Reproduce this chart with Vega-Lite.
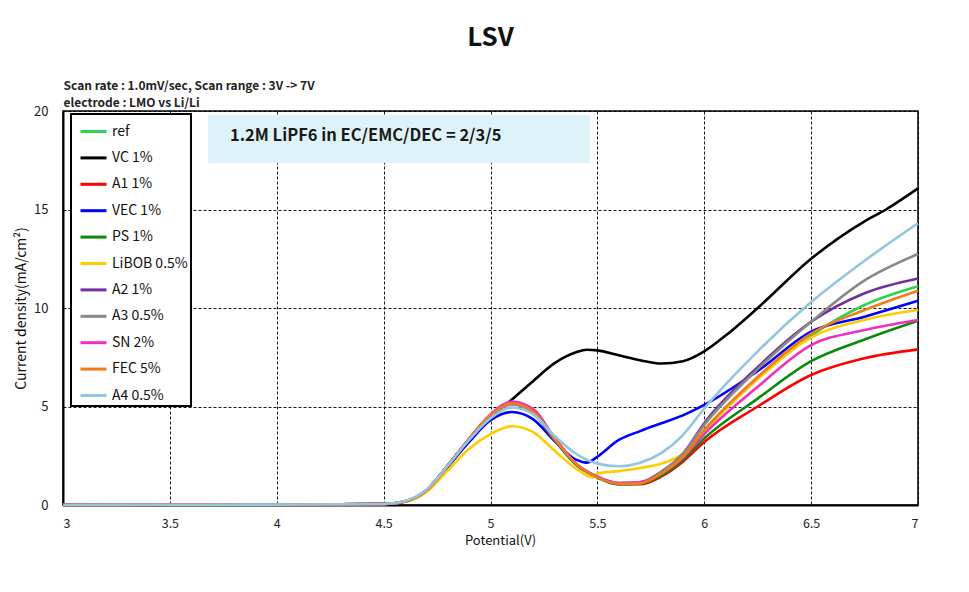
{
  "$schema": "https://vega.github.io/schema/vega-lite/v6.json",
  "width": 855,
  "height": 394,
  "autosize": {"type": "none"},
  "padding": {"left": 63, "top": 111, "right": 51, "bottom": 87},
  "background": "white",
  "title": {"text": "LSV", "anchor": "middle", "frame": "group", "fontSize": 26, "font": "Noto Sans CJK KR", "fontWeight": "bold", "offset": 28, "color": "#111111"},
  "config": {
    "font": "Noto Sans CJK KR",
    "view": {"stroke": "black", "strokeWidth": 1.5},
    "axis": {"gridColor": "black", "gridDash": [3, 2], "gridWidth": 1, "gridOpacity": 0.9, "domainColor": "black", "domainWidth": 2, "ticks": false, "tickSize": 0, "labelFont": "Noto Sans CJK KR", "labelFontSize": 13, "labelColor": "#222222", "titleFont": "Noto Sans CJK KR", "titleFontSize": 14, "titleFontWeight": "normal", "titleColor": "#111111"},
    "axisY": {"labelPadding": 15, "titlePadding": 5},
    "legend": {"strokeWidth": 2}
  },
  "resolve": {"axis": {"x": "independent"}},
  "layer": [
    {
      "data": {"values": [{"x": 3.678, "x2": 5.466, "y": 17.36, "y2": 19.8}]},
      "mark": {"type": "rect", "fill": "#def3f9"},
      "encoding": {
        "x": {"field": "x", "type": "quantitative", "scale": {"domain": [3, 7]},
          "axis": {"orient": "top", "labels": false, "ticks": false, "domain": false, "grid": false,
            "title": ["Scan rate : 1.0mV/sec,  Scan range : 3V -> 7V", "electrode : LMO vs Li/Li"],
            "titleAnchor": "start", "titleAlign": "left", "titlePadding": 2, "titleFontSize": 12, "titleLineHeight": 17, "titleFontWeight": "bold", "titleColor": "#222222"}},
        "x2": {"field": "x2"},
        "y": {"field": "y", "type": "quantitative", "scale": {"domain": [0, 20]}, "axis": {"title": "Current density(mA/cm²)", "values": [0, 5, 10, 15, 20], "format": "d", "grid": true}},
        "y2": {"field": "y2"}
      }
    },
    {
      "data": {"values": [{"x": 3.781, "y": 18.73, "label": "1.2M LiPF6 in EC/EMC/DEC = 2/3/5"}]},
      "mark": {"type": "text", "align": "left", "baseline": "middle", "fontSize": 16.5, "fontWeight": "bold", "color": "#1a1a1a"},
      "encoding": {
        "x": {"field": "x", "type": "quantitative", "scale": {"domain": [3, 7]}, "axis": null},
        "y": {"field": "y", "type": "quantitative", "scale": {"domain": [0, 20]}, "axis": {"title": "Current density(mA/cm²)", "values": [0, 5, 10, 15, 20], "format": "d", "grid": true}},
        "text": {"field": "label"}
      }
    },
    {
      "data": {"values": [
        {"s": "ref", "V": 3.0, "I": 0}, {"s": "ref", "V": 3.5, "I": 0.01}, {"s": "ref", "V": 4.0, "I": 0.02}, {"s": "ref", "V": 4.5, "I": 0.05}, {"s": "ref", "V": 4.6, "I": 0.18}, {"s": "ref", "V": 4.7, "I": 0.75}, {"s": "ref", "V": 4.8, "I": 2.0}, {"s": "ref", "V": 4.9, "I": 3.35}, {"s": "ref", "V": 5.0, "I": 4.55}, {"s": "ref", "V": 5.1, "I": 5.2}, {"s": "ref", "V": 5.2, "I": 4.75}, {"s": "ref", "V": 5.3, "I": 3.3}, {"s": "ref", "V": 5.4, "I": 2.05}, {"s": "ref", "V": 5.5, "I": 1.4}, {"s": "ref", "V": 5.6, "I": 1.1}, {"s": "ref", "V": 5.7, "I": 1.12}, {"s": "ref", "V": 5.8, "I": 1.6}, {"s": "ref", "V": 5.9, "I": 2.45}, {"s": "ref", "V": 6.0, "I": 3.8}, {"s": "ref", "V": 6.25, "I": 6.4}, {"s": "ref", "V": 6.5, "I": 8.6}, {"s": "ref", "V": 6.75, "I": 10.15}, {"s": "ref", "V": 7.0, "I": 11.1},

        {"s": "VC 1%", "V": 3.0, "I": 0}, {"s": "VC 1%", "V": 3.5, "I": 0.01}, {"s": "VC 1%", "V": 4.0, "I": 0.02}, {"s": "VC 1%", "V": 4.5, "I": 0.05}, {"s": "VC 1%", "V": 4.6, "I": 0.18}, {"s": "VC 1%", "V": 4.7, "I": 0.72}, {"s": "VC 1%", "V": 4.8, "I": 1.95}, {"s": "VC 1%", "V": 4.9, "I": 3.25}, {"s": "VC 1%", "V": 5.0, "I": 4.45}, {"s": "VC 1%", "V": 5.1, "I": 5.35}, {"s": "VC 1%", "V": 5.2, "I": 6.3}, {"s": "VC 1%", "V": 5.3, "I": 7.2}, {"s": "VC 1%", "V": 5.4, "I": 7.75}, {"s": "VC 1%", "V": 5.45, "I": 7.88}, {"s": "VC 1%", "V": 5.5, "I": 7.85}, {"s": "VC 1%", "V": 5.6, "I": 7.6}, {"s": "VC 1%", "V": 5.7, "I": 7.35}, {"s": "VC 1%", "V": 5.8, "I": 7.18}, {"s": "VC 1%", "V": 5.9, "I": 7.3}, {"s": "VC 1%", "V": 6.0, "I": 7.8}, {"s": "VC 1%", "V": 6.1, "I": 8.6}, {"s": "VC 1%", "V": 6.25, "I": 10.0}, {"s": "VC 1%", "V": 6.5, "I": 12.5}, {"s": "VC 1%", "V": 6.75, "I": 14.4}, {"s": "VC 1%", "V": 6.85, "I": 15.0}, {"s": "VC 1%", "V": 7.0, "I": 16.07},

        {"s": "A1 1%", "V": 3.0, "I": 0}, {"s": "A1 1%", "V": 3.5, "I": 0.01}, {"s": "A1 1%", "V": 4.0, "I": 0.02}, {"s": "A1 1%", "V": 4.5, "I": 0.05}, {"s": "A1 1%", "V": 4.6, "I": 0.18}, {"s": "A1 1%", "V": 4.7, "I": 0.75}, {"s": "A1 1%", "V": 4.8, "I": 2.0}, {"s": "A1 1%", "V": 4.9, "I": 3.35}, {"s": "A1 1%", "V": 5.0, "I": 4.55}, {"s": "A1 1%", "V": 5.1, "I": 5.2}, {"s": "A1 1%", "V": 5.2, "I": 4.85}, {"s": "A1 1%", "V": 5.3, "I": 3.4}, {"s": "A1 1%", "V": 5.4, "I": 2.1}, {"s": "A1 1%", "V": 5.5, "I": 1.4}, {"s": "A1 1%", "V": 5.6, "I": 1.05}, {"s": "A1 1%", "V": 5.7, "I": 1.05}, {"s": "A1 1%", "V": 5.8, "I": 1.45}, {"s": "A1 1%", "V": 5.9, "I": 2.2}, {"s": "A1 1%", "V": 6.0, "I": 3.2}, {"s": "A1 1%", "V": 6.25, "I": 5.0}, {"s": "A1 1%", "V": 6.5, "I": 6.6}, {"s": "A1 1%", "V": 6.75, "I": 7.45}, {"s": "A1 1%", "V": 7.0, "I": 7.9},

        {"s": "VEC 1%", "V": 3.0, "I": 0}, {"s": "VEC 1%", "V": 3.5, "I": 0.01}, {"s": "VEC 1%", "V": 4.0, "I": 0.02}, {"s": "VEC 1%", "V": 4.5, "I": 0.05}, {"s": "VEC 1%", "V": 4.6, "I": 0.18}, {"s": "VEC 1%", "V": 4.7, "I": 0.72}, {"s": "VEC 1%", "V": 4.8, "I": 1.95}, {"s": "VEC 1%", "V": 4.9, "I": 3.2}, {"s": "VEC 1%", "V": 5.0, "I": 4.3}, {"s": "VEC 1%", "V": 5.1, "I": 4.72}, {"s": "VEC 1%", "V": 5.2, "I": 4.35}, {"s": "VEC 1%", "V": 5.3, "I": 3.25}, {"s": "VEC 1%", "V": 5.4, "I": 2.3}, {"s": "VEC 1%", "V": 5.45, "I": 2.15}, {"s": "VEC 1%", "V": 5.5, "I": 2.45}, {"s": "VEC 1%", "V": 5.6, "I": 3.3}, {"s": "VEC 1%", "V": 5.7, "I": 3.75}, {"s": "VEC 1%", "V": 5.8, "I": 4.15}, {"s": "VEC 1%", "V": 5.9, "I": 4.55}, {"s": "VEC 1%", "V": 6.0, "I": 5.08}, {"s": "VEC 1%", "V": 6.25, "I": 6.8}, {"s": "VEC 1%", "V": 6.5, "I": 8.8}, {"s": "VEC 1%", "V": 6.75, "I": 9.56}, {"s": "VEC 1%", "V": 7.0, "I": 10.37},

        {"s": "PS 1%", "V": 3.0, "I": 0}, {"s": "PS 1%", "V": 3.5, "I": 0.01}, {"s": "PS 1%", "V": 4.0, "I": 0.02}, {"s": "PS 1%", "V": 4.5, "I": 0.05}, {"s": "PS 1%", "V": 4.6, "I": 0.18}, {"s": "PS 1%", "V": 4.7, "I": 0.75}, {"s": "PS 1%", "V": 4.8, "I": 2.0}, {"s": "PS 1%", "V": 4.9, "I": 3.35}, {"s": "PS 1%", "V": 5.0, "I": 4.55}, {"s": "PS 1%", "V": 5.1, "I": 5.15}, {"s": "PS 1%", "V": 5.2, "I": 4.7}, {"s": "PS 1%", "V": 5.3, "I": 3.3}, {"s": "PS 1%", "V": 5.4, "I": 2.05}, {"s": "PS 1%", "V": 5.5, "I": 1.4}, {"s": "PS 1%", "V": 5.6, "I": 1.05}, {"s": "PS 1%", "V": 5.7, "I": 1.08}, {"s": "PS 1%", "V": 5.8, "I": 1.5}, {"s": "PS 1%", "V": 5.9, "I": 2.3}, {"s": "PS 1%", "V": 6.0, "I": 3.38}, {"s": "PS 1%", "V": 6.25, "I": 5.4}, {"s": "PS 1%", "V": 6.5, "I": 7.3}, {"s": "PS 1%", "V": 6.75, "I": 8.4}, {"s": "PS 1%", "V": 7.0, "I": 9.35},

        {"s": "LiBOB 0.5%", "V": 3.0, "I": 0}, {"s": "LiBOB 0.5%", "V": 3.5, "I": 0.01}, {"s": "LiBOB 0.5%", "V": 4.0, "I": 0.02}, {"s": "LiBOB 0.5%", "V": 4.5, "I": 0.05}, {"s": "LiBOB 0.5%", "V": 4.6, "I": 0.15}, {"s": "LiBOB 0.5%", "V": 4.7, "I": 0.65}, {"s": "LiBOB 0.5%", "V": 4.8, "I": 1.75}, {"s": "LiBOB 0.5%", "V": 4.9, "I": 2.85}, {"s": "LiBOB 0.5%", "V": 5.0, "I": 3.6}, {"s": "LiBOB 0.5%", "V": 5.1, "I": 4.0}, {"s": "LiBOB 0.5%", "V": 5.2, "I": 3.7}, {"s": "LiBOB 0.5%", "V": 5.3, "I": 2.75}, {"s": "LiBOB 0.5%", "V": 5.4, "I": 1.85}, {"s": "LiBOB 0.5%", "V": 5.48, "I": 1.4}, {"s": "LiBOB 0.5%", "V": 5.5, "I": 1.6}, {"s": "LiBOB 0.5%", "V": 5.6, "I": 1.72}, {"s": "LiBOB 0.5%", "V": 5.7, "I": 1.88}, {"s": "LiBOB 0.5%", "V": 5.8, "I": 2.1}, {"s": "LiBOB 0.5%", "V": 5.9, "I": 2.6}, {"s": "LiBOB 0.5%", "V": 6.0, "I": 3.75}, {"s": "LiBOB 0.5%", "V": 6.25, "I": 6.4}, {"s": "LiBOB 0.5%", "V": 6.5, "I": 8.5}, {"s": "LiBOB 0.5%", "V": 6.75, "I": 9.4}, {"s": "LiBOB 0.5%", "V": 7.0, "I": 9.9},

        {"s": "A2 1%", "V": 3.0, "I": 0}, {"s": "A2 1%", "V": 3.5, "I": 0.01}, {"s": "A2 1%", "V": 4.0, "I": 0.02}, {"s": "A2 1%", "V": 4.5, "I": 0.05}, {"s": "A2 1%", "V": 4.6, "I": 0.18}, {"s": "A2 1%", "V": 4.7, "I": 0.75}, {"s": "A2 1%", "V": 4.8, "I": 2.0}, {"s": "A2 1%", "V": 4.9, "I": 3.35}, {"s": "A2 1%", "V": 5.0, "I": 4.55}, {"s": "A2 1%", "V": 5.1, "I": 5.2}, {"s": "A2 1%", "V": 5.2, "I": 4.8}, {"s": "A2 1%", "V": 5.3, "I": 3.35}, {"s": "A2 1%", "V": 5.4, "I": 2.1}, {"s": "A2 1%", "V": 5.5, "I": 1.42}, {"s": "A2 1%", "V": 5.6, "I": 1.1}, {"s": "A2 1%", "V": 5.7, "I": 1.15}, {"s": "A2 1%", "V": 5.8, "I": 1.7}, {"s": "A2 1%", "V": 5.9, "I": 2.6}, {"s": "A2 1%", "V": 6.0, "I": 4.15}, {"s": "A2 1%", "V": 6.25, "I": 7.0}, {"s": "A2 1%", "V": 6.5, "I": 9.3}, {"s": "A2 1%", "V": 6.75, "I": 10.75}, {"s": "A2 1%", "V": 7.0, "I": 11.5},

        {"s": "A3 0.5%", "V": 3.0, "I": 0}, {"s": "A3 0.5%", "V": 3.5, "I": 0.01}, {"s": "A3 0.5%", "V": 4.0, "I": 0.02}, {"s": "A3 0.5%", "V": 4.5, "I": 0.05}, {"s": "A3 0.5%", "V": 4.6, "I": 0.18}, {"s": "A3 0.5%", "V": 4.7, "I": 0.75}, {"s": "A3 0.5%", "V": 4.8, "I": 2.0}, {"s": "A3 0.5%", "V": 4.9, "I": 3.35}, {"s": "A3 0.5%", "V": 5.0, "I": 4.55}, {"s": "A3 0.5%", "V": 5.1, "I": 5.1}, {"s": "A3 0.5%", "V": 5.2, "I": 4.7}, {"s": "A3 0.5%", "V": 5.3, "I": 3.35}, {"s": "A3 0.5%", "V": 5.4, "I": 2.1}, {"s": "A3 0.5%", "V": 5.5, "I": 1.45}, {"s": "A3 0.5%", "V": 5.6, "I": 1.12}, {"s": "A3 0.5%", "V": 5.7, "I": 1.15}, {"s": "A3 0.5%", "V": 5.8, "I": 1.7}, {"s": "A3 0.5%", "V": 5.9, "I": 2.6}, {"s": "A3 0.5%", "V": 6.0, "I": 4.07}, {"s": "A3 0.5%", "V": 6.25, "I": 6.9}, {"s": "A3 0.5%", "V": 6.5, "I": 9.3}, {"s": "A3 0.5%", "V": 6.75, "I": 11.4}, {"s": "A3 0.5%", "V": 7.0, "I": 12.74},

        {"s": "SN 2%", "V": 3.0, "I": 0}, {"s": "SN 2%", "V": 3.5, "I": 0.01}, {"s": "SN 2%", "V": 4.0, "I": 0.02}, {"s": "SN 2%", "V": 4.5, "I": 0.05}, {"s": "SN 2%", "V": 4.6, "I": 0.18}, {"s": "SN 2%", "V": 4.7, "I": 0.75}, {"s": "SN 2%", "V": 4.8, "I": 2.0}, {"s": "SN 2%", "V": 4.9, "I": 3.35}, {"s": "SN 2%", "V": 5.0, "I": 4.6}, {"s": "SN 2%", "V": 5.1, "I": 5.25}, {"s": "SN 2%", "V": 5.2, "I": 4.85}, {"s": "SN 2%", "V": 5.3, "I": 3.4}, {"s": "SN 2%", "V": 5.4, "I": 2.1}, {"s": "SN 2%", "V": 5.5, "I": 1.42}, {"s": "SN 2%", "V": 5.6, "I": 1.12}, {"s": "SN 2%", "V": 5.7, "I": 1.15}, {"s": "SN 2%", "V": 5.8, "I": 1.6}, {"s": "SN 2%", "V": 5.9, "I": 2.4}, {"s": "SN 2%", "V": 6.0, "I": 3.6}, {"s": "SN 2%", "V": 6.25, "I": 6.0}, {"s": "SN 2%", "V": 6.5, "I": 8.12}, {"s": "SN 2%", "V": 6.75, "I": 8.88}, {"s": "SN 2%", "V": 7.0, "I": 9.39},

        {"s": "FEC 5%", "V": 3.0, "I": 0}, {"s": "FEC 5%", "V": 3.5, "I": 0.01}, {"s": "FEC 5%", "V": 4.0, "I": 0.02}, {"s": "FEC 5%", "V": 4.5, "I": 0.05}, {"s": "FEC 5%", "V": 4.6, "I": 0.18}, {"s": "FEC 5%", "V": 4.7, "I": 0.75}, {"s": "FEC 5%", "V": 4.8, "I": 2.0}, {"s": "FEC 5%", "V": 4.9, "I": 3.35}, {"s": "FEC 5%", "V": 5.0, "I": 4.55}, {"s": "FEC 5%", "V": 5.1, "I": 5.15}, {"s": "FEC 5%", "V": 5.2, "I": 4.75}, {"s": "FEC 5%", "V": 5.3, "I": 3.35}, {"s": "FEC 5%", "V": 5.4, "I": 2.1}, {"s": "FEC 5%", "V": 5.5, "I": 1.4}, {"s": "FEC 5%", "V": 5.6, "I": 1.08}, {"s": "FEC 5%", "V": 5.7, "I": 1.1}, {"s": "FEC 5%", "V": 5.8, "I": 1.6}, {"s": "FEC 5%", "V": 5.9, "I": 2.45}, {"s": "FEC 5%", "V": 6.0, "I": 3.8}, {"s": "FEC 5%", "V": 6.25, "I": 6.5}, {"s": "FEC 5%", "V": 6.5, "I": 8.7}, {"s": "FEC 5%", "V": 6.75, "I": 9.9}, {"s": "FEC 5%", "V": 7.0, "I": 10.88},

        {"s": "A4 0.5%", "V": 3.0, "I": 0}, {"s": "A4 0.5%", "V": 3.5, "I": 0.01}, {"s": "A4 0.5%", "V": 4.0, "I": 0.02}, {"s": "A4 0.5%", "V": 4.5, "I": 0.05}, {"s": "A4 0.5%", "V": 4.6, "I": 0.2}, {"s": "A4 0.5%", "V": 4.7, "I": 0.78}, {"s": "A4 0.5%", "V": 4.8, "I": 2.0}, {"s": "A4 0.5%", "V": 4.9, "I": 3.3}, {"s": "A4 0.5%", "V": 5.0, "I": 4.4}, {"s": "A4 0.5%", "V": 5.1, "I": 4.95}, {"s": "A4 0.5%", "V": 5.2, "I": 4.6}, {"s": "A4 0.5%", "V": 5.3, "I": 3.5}, {"s": "A4 0.5%", "V": 5.4, "I": 2.6}, {"s": "A4 0.5%", "V": 5.5, "I": 2.1}, {"s": "A4 0.5%", "V": 5.6, "I": 1.97}, {"s": "A4 0.5%", "V": 5.7, "I": 2.15}, {"s": "A4 0.5%", "V": 5.8, "I": 2.65}, {"s": "A4 0.5%", "V": 5.9, "I": 3.55}, {"s": "A4 0.5%", "V": 6.0, "I": 4.9}, {"s": "A4 0.5%", "V": 6.25, "I": 7.8}, {"s": "A4 0.5%", "V": 6.5, "I": 10.3}, {"s": "A4 0.5%", "V": 6.75, "I": 12.4}, {"s": "A4 0.5%", "V": 7.0, "I": 14.3}
      ]},
      "mark": {"type": "line", "interpolate": "monotone", "strokeWidth": 2.6},
      "encoding": {
        "x": {"field": "V", "type": "quantitative", "scale": {"domain": [3, 7]},
          "axis": {"title": "Potential(V)", "values": [3, 3.5, 4, 4.5, 5, 5.5, 6, 6.5, 7], "format": "~g", "titleX": 437, "grid": true, "labelPadding": 12, "labelFontSize": 12.5, "titlePadding": 5, "titleFontSize": 13}},
        "y": {"field": "I", "type": "quantitative", "scale": {"domain": [0, 20]}, "axis": {"title": "Current density(mA/cm²)", "values": [0, 5, 10, 15, 20], "format": "d", "grid": true}},
        "color": {"field": "s", "type": "nominal",
          "scale": {"domain": ["ref", "VC 1%", "A1 1%", "VEC 1%", "PS 1%", "LiBOB 0.5%", "A2 1%", "A3 0.5%", "SN 2%", "FEC 5%", "A4 0.5%"],
            "range": ["#2ed34f", "#000000", "#ff0000", "#0000ff", "#0a8a0a", "#ffcc00", "#7030a0", "#888888", "#ee2fbf", "#f07c1c", "#92c6e0"]},
          "legend": {"orient": "none", "legendX": 8, "legendY": 3, "title": null, "strokeColor": "black", "fillColor": "white", "padding": 3,
            "symbolType": "stroke", "symbolStrokeWidth": 3, "symbolSize": 676, "symbolOffset": 5, "labelFontSize": 14, "labelFont": "Noto Sans CJK KR", "labelColor": "#111111", "rowPadding": 4.4, "labelOffset": 4}
        }
      }
    }
  ]
}
